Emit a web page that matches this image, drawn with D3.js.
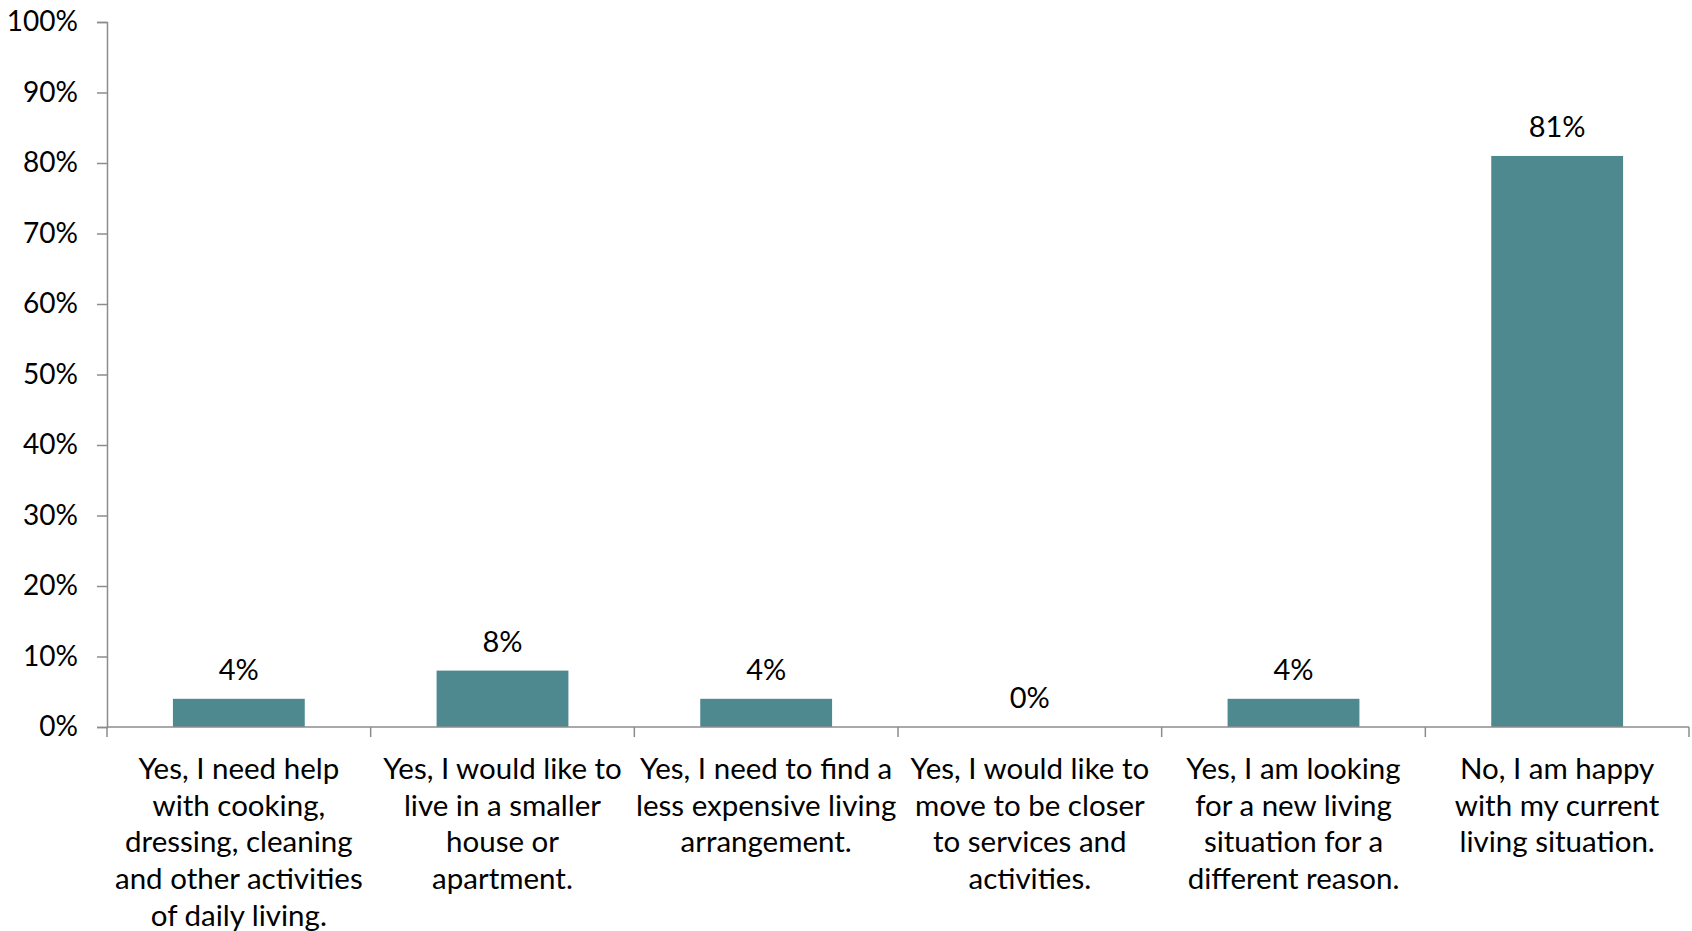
<!DOCTYPE html>
<html>
<head>
<meta charset="utf-8">
<script src="https://cdn.jsdelivr.net/npm/d3@7"></script>
<style>
  html, body { margin: 0; padding: 0; background: #fff; }
  svg { display: block; font-family: Lato, "Open Sans", sans-serif; }
</style>
</head>
<body>
<svg id="chart" width="1692" height="931"></svg>
<script>
const categories = [
  ["Yes, I need help", "with cooking,", "dressing, cleaning", "and other activities", "of daily living."],
  ["Yes, I would like to", "live in a smaller", "house or", "apartment."],
  ["Yes, I need to find a", "less expensive living", "arrangement."],
  ["Yes, I would like to", "move to be closer", "to services and", "activities."],
  ["Yes, I am looking", "for a new living", "situation for a", "different reason."],
  ["No, I am happy", "with my current", "living situation."]
];
const values = [0.04, 0.08, 0.04, 0.00, 0.04, 0.81];
const yTicks = [0, 0.1, 0.2, 0.3, 0.4, 0.5, 0.6, 0.7, 0.8, 0.9, 1.0];

const svg = d3.select("#chart");
const margin = { left: 107, right: 3, top: 22, bottom: 204 };
const W = 1692, H = 931;

const x = d3.scaleBand()
  .domain(d3.range(categories.length))
  .range([margin.left, W - margin.right])
  .paddingInner(0.5)
  .paddingOuter(0.25);

const xEdge = d3.scaleLinear()
  .domain([0, categories.length])
  .range([margin.left, W - margin.right]);

const y = d3.scaleLinear().domain([0, 1]).range([H - margin.bottom, margin.top]);

const axisColor = "#8c8c8c";

// Y axis
const yAxis = d3.axisLeft(y).tickValues(yTicks).tickFormat(d3.format(".0%")).tickSize(10).tickPadding(19);
const gy = svg.append("g").attr("transform", `translate(${margin.left},0)`).call(yAxis);
gy.select(".domain").attr("stroke", axisColor).attr("stroke-width", 1.5);
gy.selectAll(".tick line").attr("stroke", axisColor).attr("stroke-width", 1.5);
gy.selectAll(".tick text").attr("fill", "#000").style("font-size", "28px").style("font-family", "Lato, sans-serif");

// Bars
svg.append("g").selectAll("rect")
  .data(values)
  .join("rect")
  .attr("x", (d, i) => x(i))
  .attr("width", x.bandwidth())
  .attr("y", d => y(d))
  .attr("height", d => y(0) - y(d))
  .attr("fill", "#4e8990");

// X axis line and ticks
const gx = svg.append("g").attr("transform", `translate(0,${y(0)})`);
gx.append("line")
  .attr("x1", margin.left).attr("x2", W - margin.right)
  .attr("stroke", axisColor).attr("stroke-width", 1.5);
gx.selectAll("line.tk")
  .data(d3.range(categories.length + 1))
  .join("line")
  .attr("class", "tk")
  .attr("x1", d => xEdge(d)).attr("x2", d => xEdge(d))
  .attr("y1", 0).attr("y2", 10)
  .attr("stroke", axisColor).attr("stroke-width", 1.5);

// Category labels
const lineH = 36.7;
const lab = svg.append("g");
categories.forEach((lines, i) => {
  const t = lab.append("text")
    .attr("x", x(i) + x.bandwidth() / 2)
    .attr("y", y(0) + 52)
    .attr("text-anchor", "middle")
    .style("font-size", "29.5px")
    .attr("fill", "#000");
  lines.forEach((l, j) => {
    t.append("tspan").attr("x", x(i) + x.bandwidth() / 2).attr("dy", j === 0 ? 0 : lineH).text(l);
  });
});

// Value labels
svg.append("g").selectAll("text")
  .data(values)
  .join("text")
  .attr("x", (d, i) => x(i) + x.bandwidth() / 2)
  .attr("y", d => y(d) - 19)
  .attr("text-anchor", "middle")
  .style("font-size", "29px")
  .attr("fill", "#000")
  .text(d => d3.format(".0%")(d));
</script>
</body>
</html>
